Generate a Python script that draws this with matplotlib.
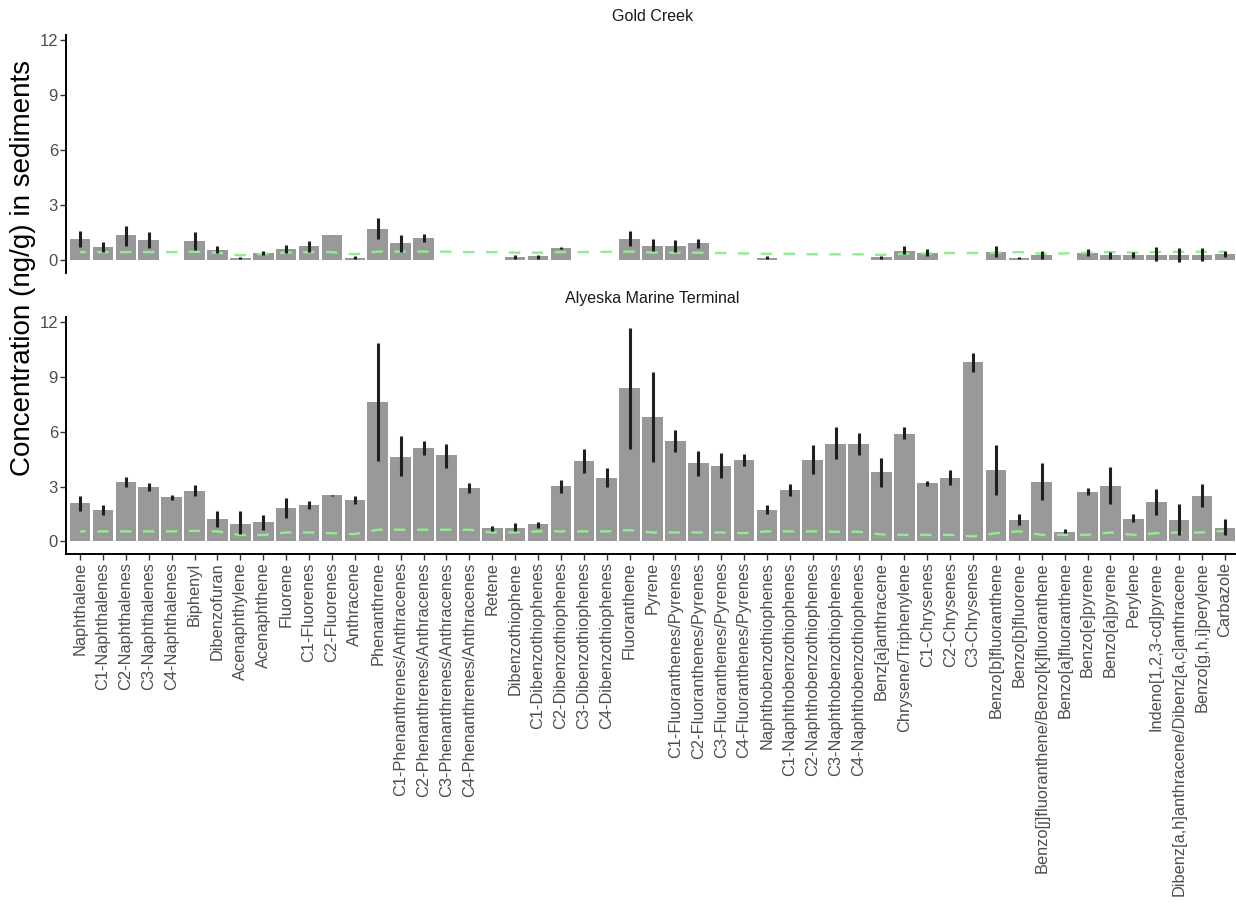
import numpy as np
import matplotlib.pyplot as plt

plt.rcParams["font.family"] = ["Liberation Sans", "DejaVu Sans"]
plt.rcParams["lines.scale_dashes"] = False

compounds = [
    "Naphthalene", "C1-Naphthalenes", "C2-Naphthalenes", "C3-Naphthalenes",
    "C4-Naphthalenes", "Biphenyl", "Dibenzofuran", "Acenaphthylene",
    "Acenaphthene", "Fluorene", "C1-Fluorenes", "C2-Fluorenes", "Anthracene",
    "Phenanthrene", "C1-Phenanthrenes/Anthracenes", "C2-Phenanthrenes/Anthracenes",
    "C3-Phenanthrenes/Anthracenes", "C4-Phenanthrenes/Anthracenes", "Retene",
    "Dibenzothiophene", "C1-Dibenzothiophenes", "C2-Dibenzothiophenes",
    "C3-Dibenzothiophenes", "C4-Dibenzothiophenes", "Fluoranthene", "Pyrene",
    "C1-Fluoranthenes/Pyrenes", "C2-Fluoranthenes/Pyrenes", "C3-Fluoranthenes/Pyrenes",
    "C4-Fluoranthenes/Pyrenes", "Naphthobenzothiophenes", "C1-Naphthobenzothiophenes",
    "C2-Naphthobenzothiophenes", "C3-Naphthobenzothiophenes", "C4-Naphthobenzothiophenes",
    "Benz[a]anthracene", "Chrysene/Triphenylene", "C1-Chrysenes", "C2-Chrysenes",
    "C3-Chrysenes", "Benzo[b]fluoranthene", "Benzo[b]fluorene",
    "Benzo[j]fluoranthene/Benzo[k]fluoranthene", "Benzo[a]fluoranthene",
    "Benzo[e]pyrene", "Benzo[a]pyrene", "Perylene", "Indeno[1,2,3-cd]pyrene",
    "Dibenz[a,h]anthracene/Dibenz[a,c]anthracene", "Benzo[g,h,i]perylene", "Carbazole",
]

nan = np.nan

# Gold Creek: mean concentration and error bar limits (ng/g)
gold_mean = [1.18, 0.74, 1.38, 1.12, nan, 1.05, 0.58, 0.13, 0.42, 0.62, 0.78, 1.40, 0.15,
             1.72, 0.94, 1.23, nan, nan, nan, 0.20, 0.22, 0.69, nan, nan, 1.18, 0.81,
             0.78, 0.96, nan, nan, 0.13, nan, nan, nan, nan, 0.18, 0.50, 0.42, nan, nan,
             0.47, 0.11, 0.29, nan, 0.42, 0.27, 0.29, 0.31, 0.29, 0.29, 0.33]
gold_lo = [0.75, 0.47, 0.81, 0.69, nan, 0.56, 0.38, 0.07, 0.30, 0.38, 0.47, nan, 0.05,
           1.18, 0.47, 1.00, nan, nan, nan, 0.09, 0.10, 0.60, nan, nan, 0.78, 0.50,
           0.47, 0.69, nan, nan, 0.05, nan, nan, nan, nan, 0.07, 0.33, 0.24, nan, nan,
           0.20, 0.05, 0.09, nan, 0.24, 0.05, 0.14, -0.04, -0.08, -0.04, 0.20]
gold_hi = [1.60, 1.00, 1.90, 1.56, nan, 1.56, 0.81, 0.19, 0.50, 0.83, 1.08, nan, 0.23,
           2.32, 1.36, 1.45, nan, nan, nan, 0.27, 0.30, 0.74, nan, nan, 1.60, 1.14,
           1.09, 1.18, nan, nan, 0.23, nan, nan, nan, nan, 0.24, 0.78, 0.63, nan, nan,
           0.78, 0.20, 0.50, nan, 0.63, 0.45, 0.47, 0.74, 0.68, 0.67, 0.50]
gold_ref = [0.45, 0.45, 0.45, 0.45, 0.45, 0.47, 0.42, 0.27, 0.36, 0.42, 0.45, 0.45, 0.33,
            0.48, 0.48, 0.48, 0.47, 0.45, 0.45, 0.42, 0.42, 0.45, 0.45, 0.47, 0.48, 0.43,
            0.42, 0.42, 0.40, 0.38, 0.36, 0.36, 0.33, 0.33, 0.33, 0.30, 0.36, 0.38, 0.40,
            0.40, 0.42, 0.45, 0.36, 0.38, 0.42, 0.45, 0.42, 0.45, 0.47, 0.47, 0.47]

# Alyeska Marine Terminal
amt_mean = [2.09, 1.73, 3.25, 2.98, 2.42, 2.76, 1.22, 0.95, 1.05, 1.85, 1.98, 2.53, 2.27,
            7.64, 4.64, 5.11, 4.71, 2.91, 0.71, 0.75, 0.93, 3.02, 4.38, 3.47, 8.40, 6.80,
            5.49, 4.29, 4.16, 4.45, 1.73, 2.80, 4.45, 5.36, 5.33, 3.80, 5.91, 3.18, 3.45,
            9.84, 3.89, 1.16, 3.25, 0.53, 2.71, 3.05, 1.24, 2.18, 1.16, 2.49, 0.76]
amt_lo = [1.67, 1.47, 2.98, 2.75, 2.29, 2.47, 0.78, 0.40, 0.64, 1.31, 1.76, 2.49, 2.07,
          4.40, 3.58, 4.71, 4.04, 2.67, 0.55, 0.58, 0.76, 2.67, 3.76, 2.96, 5.09, 4.35,
          4.89, 3.58, 3.49, 4.13, 1.49, 2.49, 3.67, 4.49, 4.73, 3.00, 5.62, 3.04, 3.07,
          9.31, 2.53, 0.89, 2.27, 0.45, 2.53, 2.04, 1.04, 1.45, 0.35, 1.87, 0.35]
amt_hi = [2.49, 2.00, 3.55, 3.22, 2.55, 3.07, 1.64, 1.67, 1.47, 2.40, 2.22, 2.56, 2.49,
          10.89, 5.76, 5.53, 5.35, 3.22, 0.85, 1.00, 1.04, 3.36, 5.04, 4.00, 11.71, 9.27,
          6.09, 4.98, 4.85, 4.80, 1.98, 3.15, 5.27, 6.27, 5.95, 4.55, 6.25, 3.33, 3.91,
          10.35, 5.27, 1.49, 4.31, 0.67, 2.91, 4.07, 1.49, 2.89, 2.04, 3.13, 1.22]
amt_ref = [0.55, 0.55, 0.55, 0.55, 0.55, 0.58, 0.55, 0.35, 0.35, 0.49, 0.49, 0.45, 0.40,
           0.64, 0.64, 0.64, 0.64, 0.64, 0.49, 0.49, 0.55, 0.55, 0.55, 0.55, 0.62, 0.49,
           0.49, 0.49, 0.49, 0.45, 0.55, 0.55, 0.55, 0.53, 0.53, 0.38, 0.36, 0.36, 0.36,
           0.27, 0.45, 0.55, 0.36, 0.36, 0.36, 0.49, 0.36, 0.45, 0.49, 0.49, 0.58]

W, H = 1236, 909
fig = plt.figure(figsize=(W / 100, H / 100), dpi=100)

x = np.arange(len(compounds))
left = 66.3 / W
width = (1238.7 - 66.3) / W

# dash period equals the category spacing, dashes centred on each category
spacing_pt = (1238.7 - 66.3) / 51.2 * 72 / 100
dash = spacing_pt / 2


def draw_panel(ax, mean, lo, hi, ref, title, show_x):
    ax.bar(x, mean, width=0.9, color="#999999", zorder=1)
    ax.plot(x, ref, color="#90ee90", lw=1.7,
            linestyle=(dash / 2, (dash, dash)), zorder=2)
    ax.vlines(x, lo, hi, color="#1f1f1f", lw=2.2, zorder=3)
    ax.set_xlim(-0.6, len(compounds) - 0.4)
    ax.set_ylim(-0.69, 12.3)
    ax.set_yticks([0, 3, 6, 9, 12])
    for side in ["top", "right"]:
        ax.spines[side].set_visible(False)
    ax.spines["left"].set_linewidth(1.4)
    ax.tick_params(axis="y", length=4, width=1, color="#333333",
                   labelsize=12, labelcolor="#4d4d4d", pad=2)
    if show_x:
        ax.spines["bottom"].set_linewidth(1.4)
        ax.set_xticks(x)
        ax.set_xticklabels(compounds, rotation=90)
        ax.tick_params(axis="x", length=4, width=1, color="#333333",
                       labelsize=11.8, labelcolor="#4d4d4d", pad=2)
    else:
        ax.spines["bottom"].set_visible(False)
        ax.set_xticks([])
    pos = ax.get_position()
    fig.text(pos.x0 + pos.width / 2, pos.y1 + 11 / H, title, ha="center",
             va="bottom", fontsize=11.5, color="#1a1a1a")


ax_top = fig.add_axes([left, 1 - 273 / H, width, 238 / H])
draw_panel(ax_top, gold_mean, gold_lo, gold_hi, gold_ref, "Gold Creek", False)

ax_bot = fig.add_axes([left, 1 - 554 / H, width, 237 / H])
draw_panel(ax_bot, amt_mean, amt_lo, amt_hi, amt_ref, "Alyeska Marine Terminal", True)

fig.text(23 / W, 1 - 268 / H, "Concentration (ng/g) in sediments", rotation=90,
         ha="center", va="center", fontsize=20, color="black")

fig.savefig("out.png", dpi=100)
